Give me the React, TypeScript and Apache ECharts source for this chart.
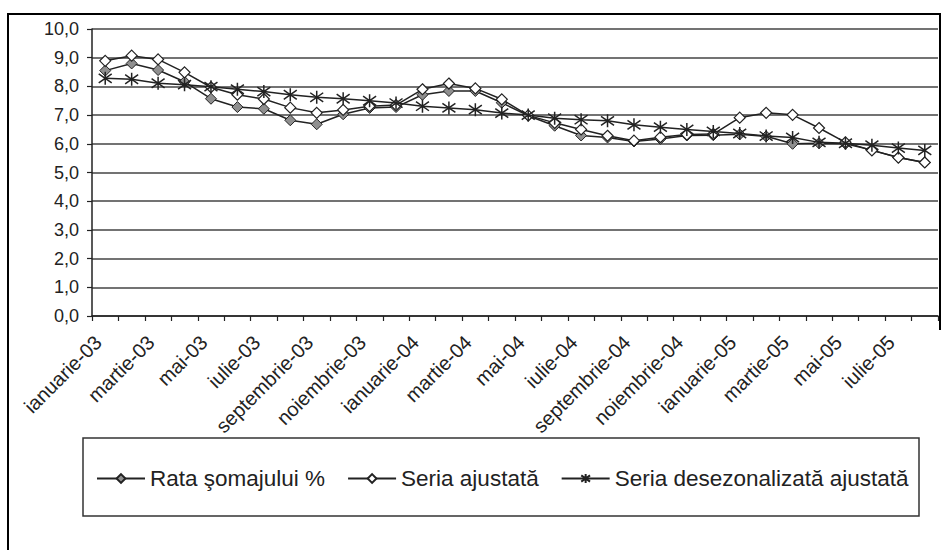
import React, { useEffect, useRef } from "react";
import * as echarts from "echarts";

const months = ["ianuarie", "februarie", "martie", "aprilie", "mai", "iunie", "iulie", "august", "septembrie", "octombrie", "noiembrie", "decembrie"];
const categories: string[] = [];
["03", "04", "05"].forEach((y) => months.forEach((m) => categories.push(m + "-" + y)));
const cats = categories.slice(0, 32);

const rataSomaj = [8.55, 8.8, 8.57, 8.16, 7.57, 7.28, 7.22, 6.82, 6.68, 7.03, 7.25, 7.28, 7.71, 7.84, 7.84, 7.43, 6.98, 6.63, 6.29, 6.22, 6.08, 6.17, 6.29, 6.3, 6.33, 6.26, 6.0, 6.02, 6.0, 5.78, 5.52, 5.35];
const seriaAjustata = [8.89, 9.07, 8.94, 8.49, 7.97, 7.71, 7.56, 7.26, 7.08, 7.18, 7.31, 7.35, 7.9, 8.1, 7.93, 7.55, 6.99, 6.73, 6.5, 6.28, 6.11, 6.23, 6.32, 6.34, 6.91, 7.08, 7.01, 6.55, 6.05, 5.77, 5.52, 5.35];
const seriaDesez = [8.28, 8.25, 8.11, 8.06, 7.99, 7.9, 7.82, 7.71, 7.62, 7.57, 7.5, 7.42, 7.31, 7.25, 7.19, 7.07, 7.0, 6.89, 6.84, 6.8, 6.66, 6.58, 6.5, 6.43, 6.36, 6.27, 6.22, 6.05, 6.02, 5.95, 5.85, 5.77];

const seriesNames = ["Rata şomajului %", "Seria ajustată", "Seria desezonalizată ajustată"];

const FONT = "'Liberation Sans', Arial, sans-serif";
const INK = "#222";
const STAR = "path://M-7,-7L7,7M-7,7L7,-7M0,-10L0,10";

export default function App() {
  const ref = useRef<HTMLDivElement>(null);
  useEffect(() => {
    document.body.style.margin = "0";
    const chart = echarts.init(ref.current!, null, { renderer: "svg" });
    chart.setOption({
      animation: false,
      backgroundColor: "#fff",
      grid: { left: 92, top: 29, right: 3, bottom: 234, containLabel: false },
      xAxis: {
        type: "category",
        data: cats,
        boundaryGap: true,
        axisLine: { show: true, lineStyle: { color: INK, width: 1.5 } },
        axisTick: { show: true, interval: 0, length: 5, lineStyle: { color: INK, width: 1.2 } },
        axisLabel: {
          interval: 1,
          rotate: 45,
          margin: 30,
          verticalAlign: "bottom",
          color: INK,
          fontFamily: FONT,
          fontSize: 20,
        },
        splitLine: { show: false },
      },
      yAxis: {
        type: "value",
        min: 0,
        max: 10,
        interval: 1,
        axisLine: { show: true, lineStyle: { color: INK, width: 1.5 } },
        axisTick: { show: true, inside: false, length: 5, lineStyle: { color: INK, width: 1.2 } },
        axisLabel: {
          margin: 13,
          color: INK,
          fontFamily: FONT,
          fontSize: 18,
          formatter: (v: number) => v.toFixed(1).replace(".", ","),
        },
        splitLine: { show: true, lineStyle: { color: "#444", width: 1.5 } },
      },
      legend: {
        left: 96,
        top: 467,
        padding: 0,
        itemGap: 22,
        itemWidth: 48,
        itemHeight: 11,
        textStyle: { fontFamily: FONT, fontSize: 22.5, color: INK },
        data: seriesNames,
      },
      graphic: [
        {
          type: "polyline",
          shape: { points: [[8, 560], [8, 14], [940, 14], [940, 330]] },
          style: { fill: "none", stroke: "#000", lineWidth: 2 },
          silent: true,
        },
        {
          type: "rect",
          shape: { x: 83, y: 438, width: 836, height: 78 },
          style: { fill: "none", stroke: "#333", lineWidth: 1.5 },
          silent: true,
        },
      ],
      series: [
        {
          name: seriesNames[0],
          type: "line",
          data: rataSomaj,
          symbol: "diamond",
          symbolSize: 11,
          lineStyle: { color: INK, width: 1.5 },
          itemStyle: { color: "#8f8f8f", borderColor: INK, borderWidth: 1 },
          z: 2,
        },
        {
          name: seriesNames[1],
          type: "line",
          data: seriaAjustata,
          symbol: "diamond",
          symbolSize: 11,
          lineStyle: { color: INK, width: 1.5 },
          itemStyle: { color: "#fff", borderColor: INK, borderWidth: 1.2 },
          z: 3,
        },
        {
          name: seriesNames[2],
          type: "line",
          data: seriaDesez,
          symbol: STAR,
          symbolSize: 13,
          lineStyle: { color: INK, width: 1.5 },
          itemStyle: { color: INK, borderColor: INK, borderWidth: 1.5 },
          z: 4,
        },
      ],
    });
    return () => chart.dispose();
  }, []);
  return <div ref={ref} style={{ width: 941, height: 550 }} />;
}
